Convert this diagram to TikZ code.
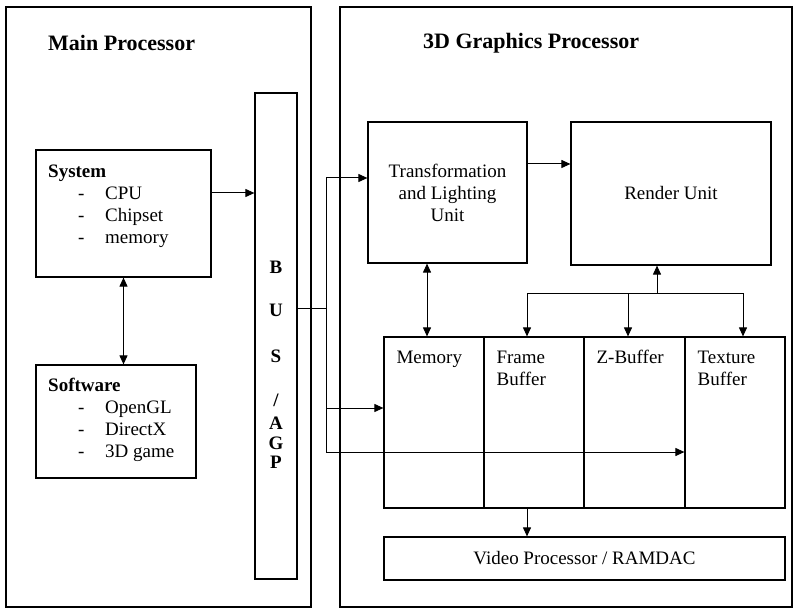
\documentclass[tikz,border=0pt]{standalone}
\usepackage{fontspec}
\setmainfont{Liberation Serif}
\usetikzlibrary{arrows.meta,positioning,calc}
\newcommand{\itm}[1]{\\\hspace*{30pt}\makebox[27pt][l]{-}#1}

\begin{document}
\begin{tikzpicture}[x=1pt,y=-1pt,>={Triangle[length=9pt,width=8pt]},
    panel/.style={draw,line width=1.4pt,inner sep=0pt},
    box/.style={draw,line width=1.2pt,inner sep=0pt},
    cell/.style={box,minimum width=100pt,minimum height=171pt},
    txt/.style={font=\fontsize{19}{22}\selectfont,inner sep=0pt,align=left},
    ttl/.style={font=\fontsize{22}{26}\selectfont\bfseries,inner sep=0pt},
    conn/.style={line width=1pt}]
  \useasboundingbox (0,0) rectangle (794,609);
  % the two processors
  \node[panel,minimum width=305pt,minimum height=600pt] (mainp) at (158.5,307) {};
  \node[panel,minimum width=452pt,minimum height=600pt] (gfxp) at (566,307) {};
  \node[ttl,anchor=west] (mainttl) at (48,43) {Main Processor};
  \node[ttl,anchor=west] (gfxttl) at (423,43) {3D Graphics Processor};
  % bus
  \node[box,minimum width=42pt,minimum height=486pt] (bus) at (276,336) {};
  \foreach \l/\y [count=\i] in {B/267,U/310,S/356,{/}/400,A/423,G/443,P/462}
    \node[txt,font=\fontsize{19}{22}\selectfont\bfseries] (bus\i) at (276,\y) {\l};
  % main processor side
  \node[box,minimum width=175pt,minimum height=127pt] (sys) at (123.5,213.5) {};
  \node[txt,anchor=north west] (syslbl) at (48,165) {\textbf{System}\itm{CPU}\itm{Chipset}\itm{memory}};
  \node[box,minimum width=160pt,minimum height=113pt] (soft) at (116,421.5) {};
  \node[txt,anchor=north west] (softlbl) at (48,378) {\textbf{Software}\itm{OpenGL}\itm{DirectX}\itm{3D game}};
  % graphics side
  \node[box,minimum width=159pt,minimum height=141pt,txt,align=center] (tl) at (447.5,192.5)
    {Transformation\\and Lighting\\Unit};
  \node[box,minimum width=200pt,minimum height=143pt,txt] (ren) at (671,193.5) {Render Unit};
  \node[cell] (mem) at (434,422.5) {};
  \node[cell] (fb) at (534,422.5) {};
  \node[cell,minimum width=101pt] (zb) at (634.5,422.5) {};
  \node[cell] (tex) at (735,422.5) {};
  \foreach \c/\t in {mem/Memory,fb/Frame\\Buffer,zb/Z-Buffer,tex/Texture\\Buffer}
    \node[txt,anchor=north west] (\c lbl) at ([shift={(13pt,-14pt)}]\c.north west) {\t};
  \node[box,minimum width=401pt,minimum height=43pt,txt] (vid) at (584.5,558.5) {Video Processor / RAMDAC};
  % connections
  \draw[conn,->] ([yshift=20.5pt]sys.east) -- ([yshift=20.5pt]sys.east -| bus.west);
  \draw[conn,<->] (sys.south) -- (sys.south |- soft.north);
  \coordinate (tap) at (326,308);
  \draw[conn] (bus.east |- tap) -- (tap);
  \draw[conn] (tap |- 0,178) -- (tap |- 0,452);
  \draw[conn,->] (tap |- 0,178) -- ([yshift=14.5pt]tl.west);
  \draw[conn,->] (tap |- 0,408) -- ([yshift=14.5pt]mem.west);
  \draw[conn,->] (tap |- 0,452) -- ([yshift=-29.5pt]tex.west);
  \draw[conn,->] ([yshift=28.5pt]tl.east) -- ([yshift=28.5pt]tl.east -| ren.west);
  \draw[conn,<->] ([xshift=-20.5pt]tl.south) -- ([xshift=-20.5pt]tl.south |- mem.north);
  \coordinate (rb) at (657,293);
  \draw[conn,->] (rb) -- (rb |- ren.south);
  \draw[conn,->] (rb) -| ([xshift=-7pt]fb.north);
  \draw[conn,->] (rb) -| ([xshift=8pt]tex.north);
  \draw[conn,->] ([xshift=-6.5pt]zb.north |- rb) -- ([xshift=-6.5pt]zb.north);
  \draw[conn,->] ([xshift=-7pt]fb.south) -- ([xshift=-7pt]fb.south |- vid.north);
\end{tikzpicture}
\end{document}
